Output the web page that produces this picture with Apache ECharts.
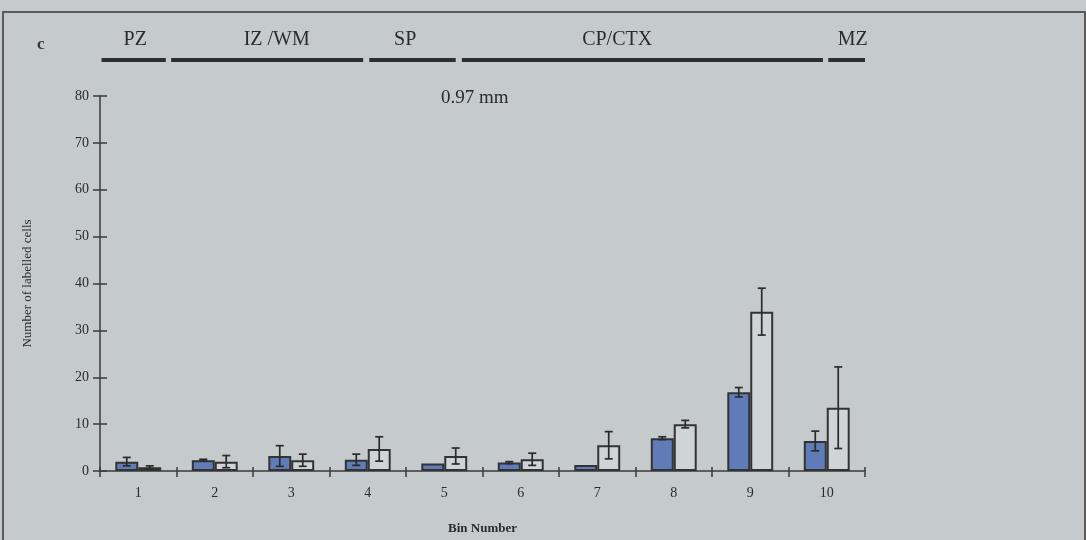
<!DOCTYPE html>
<html>
<head>
<meta charset="utf-8">
<script src="https://cdn.jsdelivr.net/npm/echarts@6/dist/echarts.min.js"></script>
<style>
  html, body { margin: 0; padding: 0; background: #c5cacc; }
  #chart { width: 1086px; height: 540px; }
</style>
</head>
<body>
<div id="chart"></div>
<script>
// Bins along the cortical depth
const categories = ['1', '2', '3', '4', '5', '6', '7', '8', '9', '10'];
const yTicks = [0, 10, 20, 30, 40, 50, 60, 70, 80];

// Filled (blue) bars: mean and error
const blueMean = [2.0, 2.3, 3.2, 2.4, 1.6, 1.8, 1.3, 7.0, 16.8, 6.4];
const blueErr  = [0.9, 0.2, 2.2, 1.2, 0.0, 0.2, 0.0, 0.3, 1.0, 2.1];

// Open (white) bars: mean and error
const whiteMean = [0.8, 2.0, 2.3, 4.7, 3.2, 2.5, 5.5, 10.0, 34.0, 13.5];
const whiteErr  = [0.3, 1.3, 1.3, 2.6, 1.7, 1.3, 2.9, 0.8, 5.0, 8.7];

// Zones above the plot, in bin units along the x axis: start, end, label position
const zoneNames  = ['PZ', 'IZ /WM', 'SP', 'CP/CTX', 'MZ'];
const zoneStart  = [0.02, 0.93, 3.52, 4.73, 9.52];
const zoneEnd    = [0.86, 3.44, 4.65, 9.45, 10.0];
const zoneLabelX = [0.46, 2.31, 3.99, 6.76, 9.84];

const SERIF = '"Liberation Serif", "DejaVu Serif", serif';
const INK = '#2b2b2b';

const chart = echarts.init(document.getElementById('chart'));

function errorItem(offsetSign) {
  return function (params, api) {
    const i = api.value(0);
    const mean = api.value(1);
    const err = api.value(2);
    if (!err) return null;
    const bw = api.size([1, 0])[0];
    const x = api.coord([i, mean])[0] + offsetSign * bw * 0.15;
    const top = api.coord([i, mean + err])[1];
    const bot = api.coord([i, mean - err])[1];
    const cap = 4;
    const st = { stroke: INK, lineWidth: 1.7 };
    return {
      type: 'group',
      children: [
        { type: 'line', shape: { x1: x, y1: top, x2: x, y2: bot }, style: st },
        { type: 'line', shape: { x1: x - cap, y1: top, x2: x + cap, y2: top }, style: st },
        { type: 'line', shape: { x1: x - cap, y1: bot, x2: x + cap, y2: bot }, style: st }
      ]
    };
  };
}

const zoneData = zoneNames.map((n, i) => [zoneStart[i], zoneEnd[i], zoneLabelX[i], n]);

const option = {
  backgroundColor: '#c5cacc',
  animation: false,
  title: {
    text: '0.97 mm',
    left: 436,
    top: 84,
    textStyle: { fontFamily: SERIF, fontSize: 19, fontWeight: 'normal', color: INK }
  },
  graphic: [
    {
      type: 'rect',
      shape: { x: 3, y: 12, width: 1082, height: 540 },
      style: { fill: 'none', stroke: '#5a5a5a', lineWidth: 2 },
      silent: true
    },
    {
      type: 'text',
      left: 37,
      top: 36,
      style: { text: 'c', font: 'bold 17px ' + SERIF, fill: '#3a3a3a' }
    }
  ],
  grid: { left: 100, right: 221, top: 96, bottom: 69 },
  xAxis: [
    {
      type: 'category',
      data: categories,
      name: 'Bin Number',
      nameLocation: 'middle',
      nameGap: 51,
      nameTextStyle: { fontFamily: SERIF, fontSize: 13, fontWeight: 'bold', color: INK },
      axisLine: { lineStyle: { color: '#3a3a3a', width: 1.5 } },
      axisTick: { show: true, length: 6, lineStyle: { color: '#3a3a3a', width: 1.5 } },
      axisLabel: { margin: 15, fontFamily: SERIF, fontSize: 14, color: INK },
      splitLine: { show: false }
    },
    {
      type: 'category',
      data: categories,
      position: 'bottom',
      axisLine: { show: false },
      axisTick: { show: true, inside: true, length: 4, lineStyle: { color: '#3a3a3a', width: 1.5 } },
      axisLabel: { show: false },
      splitLine: { show: false }
    },
    {
      type: 'value',
      min: 0,
      max: 10,
      show: false
    }
  ],
  yAxis: [
    {
      type: 'value',
      min: yTicks[0],
      max: yTicks[yTicks.length - 1],
      interval: 10,
      name: 'Number of labelled cells',
      nameLocation: 'middle',
      nameGap: 66,
      nameTextStyle: { fontFamily: SERIF, fontSize: 13, color: INK },
      axisLine: { show: true, lineStyle: { color: '#3a3a3a', width: 1.5 } },
      axisTick: { show: true, length: 7, lineStyle: { color: '#3a3a3a', width: 1.5 } },
      axisLabel: { margin: 11, fontFamily: SERIF, fontSize: 14, color: INK },
      splitLine: { show: false }
    },
    {
      type: 'value',
      min: yTicks[0],
      max: yTicks[yTicks.length - 1],
      interval: 10,
      position: 'left',
      axisLine: { show: false },
      axisTick: { show: true, inside: true, length: 7, lineStyle: { color: '#3a3a3a', width: 1.5 } },
      axisLabel: { show: false },
      splitLine: { show: false }
    }
  ],
  series: [
    {
      type: 'bar',
      data: blueMean,
      barGap: 0,
      barCategoryGap: '40%',
      itemStyle: { color: '#5f7cb8', borderColor: '#333', borderWidth: 2 },
      z: 2
    },
    {
      type: 'bar',
      data: whiteMean,
      barGap: 0,
      barCategoryGap: '40%',
      itemStyle: { color: '#cfd4d6', borderColor: '#333', borderWidth: 2 },
      z: 2
    },
    {
      type: 'custom',
      renderItem: errorItem(-1),
      data: blueMean.map((m, i) => [i, m, blueErr[i]]),
      encode: { x: 0, y: 1 },
      z: 5
    },
    {
      type: 'custom',
      renderItem: errorItem(1),
      data: whiteMean.map((m, i) => [i, m, whiteErr[i]]),
      encode: { x: 0, y: 1 },
      z: 5
    },
    {
      type: 'custom',
      xAxisIndex: 2,
      clip: false,
      silent: true,
      encode: { x: [0, 1, 2] },
      data: zoneData,
      renderItem: function (params, api) {
        const x1 = api.coord([api.value(0), 0])[0];
        const x2 = api.coord([api.value(1), 0])[0];
        const xl = api.coord([api.value(2), 0])[0];
        const top = params.coordSys.y;
        return {
          type: 'group',
          children: [
            {
              type: 'rect',
              shape: { x: x1, y: top - 38, width: x2 - x1, height: 4 },
              style: { fill: '#2e2e2e' }
            },
            {
              type: 'text',
              x: xl,
              y: top - 56,
              style: {
                text: zoneNames[params.dataIndex],
                font: '20px ' + SERIF,
                fill: INK,
                align: 'center',
                verticalAlign: 'middle'
              }
            }
          ]
        };
      }
    }
  ]
};

chart.setOption(option);
</script>
</body>
</html>
